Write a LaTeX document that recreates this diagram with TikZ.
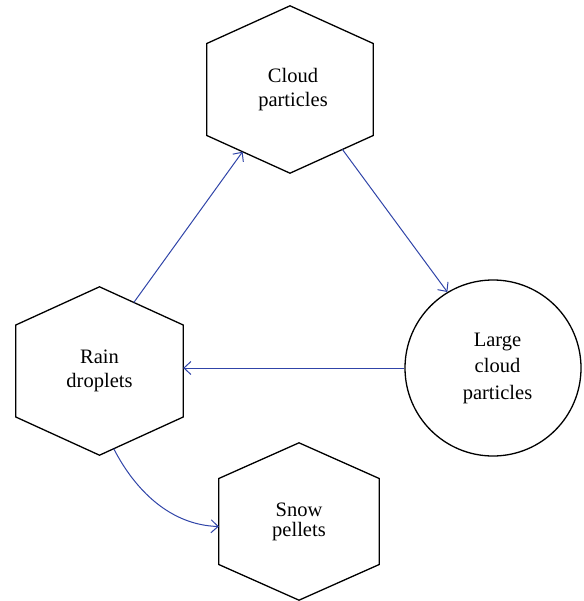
\documentclass[tikz,border=0pt]{standalone}
\usepackage{fontspec}
\setmainfont{Liberation Serif}
\usetikzlibrary{calc,arrows.meta}
\definecolor{arrowblue}{RGB}{48,68,168}
\newcommand\hexshape[2]{%
  \coordinate (#1-ur) at ($(#1.east)+(0,-#2)$);
  \coordinate (#1-lr) at ($(#1.east)+(0,#2)$);
  \coordinate (#1-ll) at ($(#1.west)+(0,#2)$);
  \coordinate (#1-ul) at ($(#1.west)+(0,-#2)$);
  \draw[shapeline] (#1.north) -- (#1-ur) -- (#1-lr) -- (#1.south) -- (#1-ll) -- (#1-ul) -- cycle;}
\begin{document}
\begin{tikzpicture}[x=1pt,y=-1pt,
  shapeline/.style={draw=black, line width=1.3pt, line join=miter},
  hexnode/.style={inner sep=0pt, align=center, font=\fontsize{20.5}{23.5}\selectfont},
  circnode/.style={circle, shapeline, inner sep=0pt, align=center, font=\fontsize{20.5}{26.5}\selectfont, minimum size=176pt},
  flow/.style={draw=arrowblue, line width=1pt, -{Straight Barb[length=7pt,width=13pt,line width=1pt]}}]
\useasboundingbox (0,0) rectangle (583,601);

\node[hexnode, minimum width=166pt, minimum height=167pt] (cloud) at (290,89.5) {\hspace*{6pt}Cloud\\\hspace*{6pt}particles};
\hexshape{cloud}{46}
\node[hexnode, minimum width=167pt, minimum height=168pt] (rain) at (99.5,371) {Rain\\droplets};
\hexshape{rain}{46}
\node[hexnode, minimum width=160pt, minimum height=157pt, font=\fontsize{20.5}{20}\selectfont] (snow) at (299,521.5) {Snow\\pellets};
\hexshape{snow}{43}
\node[circnode] (large) at (493,368) {\hspace*{9pt}Large\\\hspace*{9pt}cloud\\\hspace*{9pt}particles};

\coordinate (r2c-a) at ($(rain.north)!0.41!(rain-ur)$);
\coordinate (r2c-b) at ($(cloud-ll)!0.43!(cloud.south)$);
\coordinate (c2l-a) at ($(cloud.south)!0.63!(cloud-lr)$);
\coordinate (r2s-a) at ($(rain.south)!0.17!(rain-lr)$);
\coordinate (r2s-b) at ($(snow.west)+(0,5)$);

\draw[flow] (r2c-a) -- (r2c-b);
\draw[flow] (c2l-a) -- (large.121.5);
\draw[flow] (large.west) -- (rain.east |- large.west);
\draw[flow] (r2s-a) .. controls (135,490) and (170,525) .. (r2s-b);
\end{tikzpicture}
\end{document}
